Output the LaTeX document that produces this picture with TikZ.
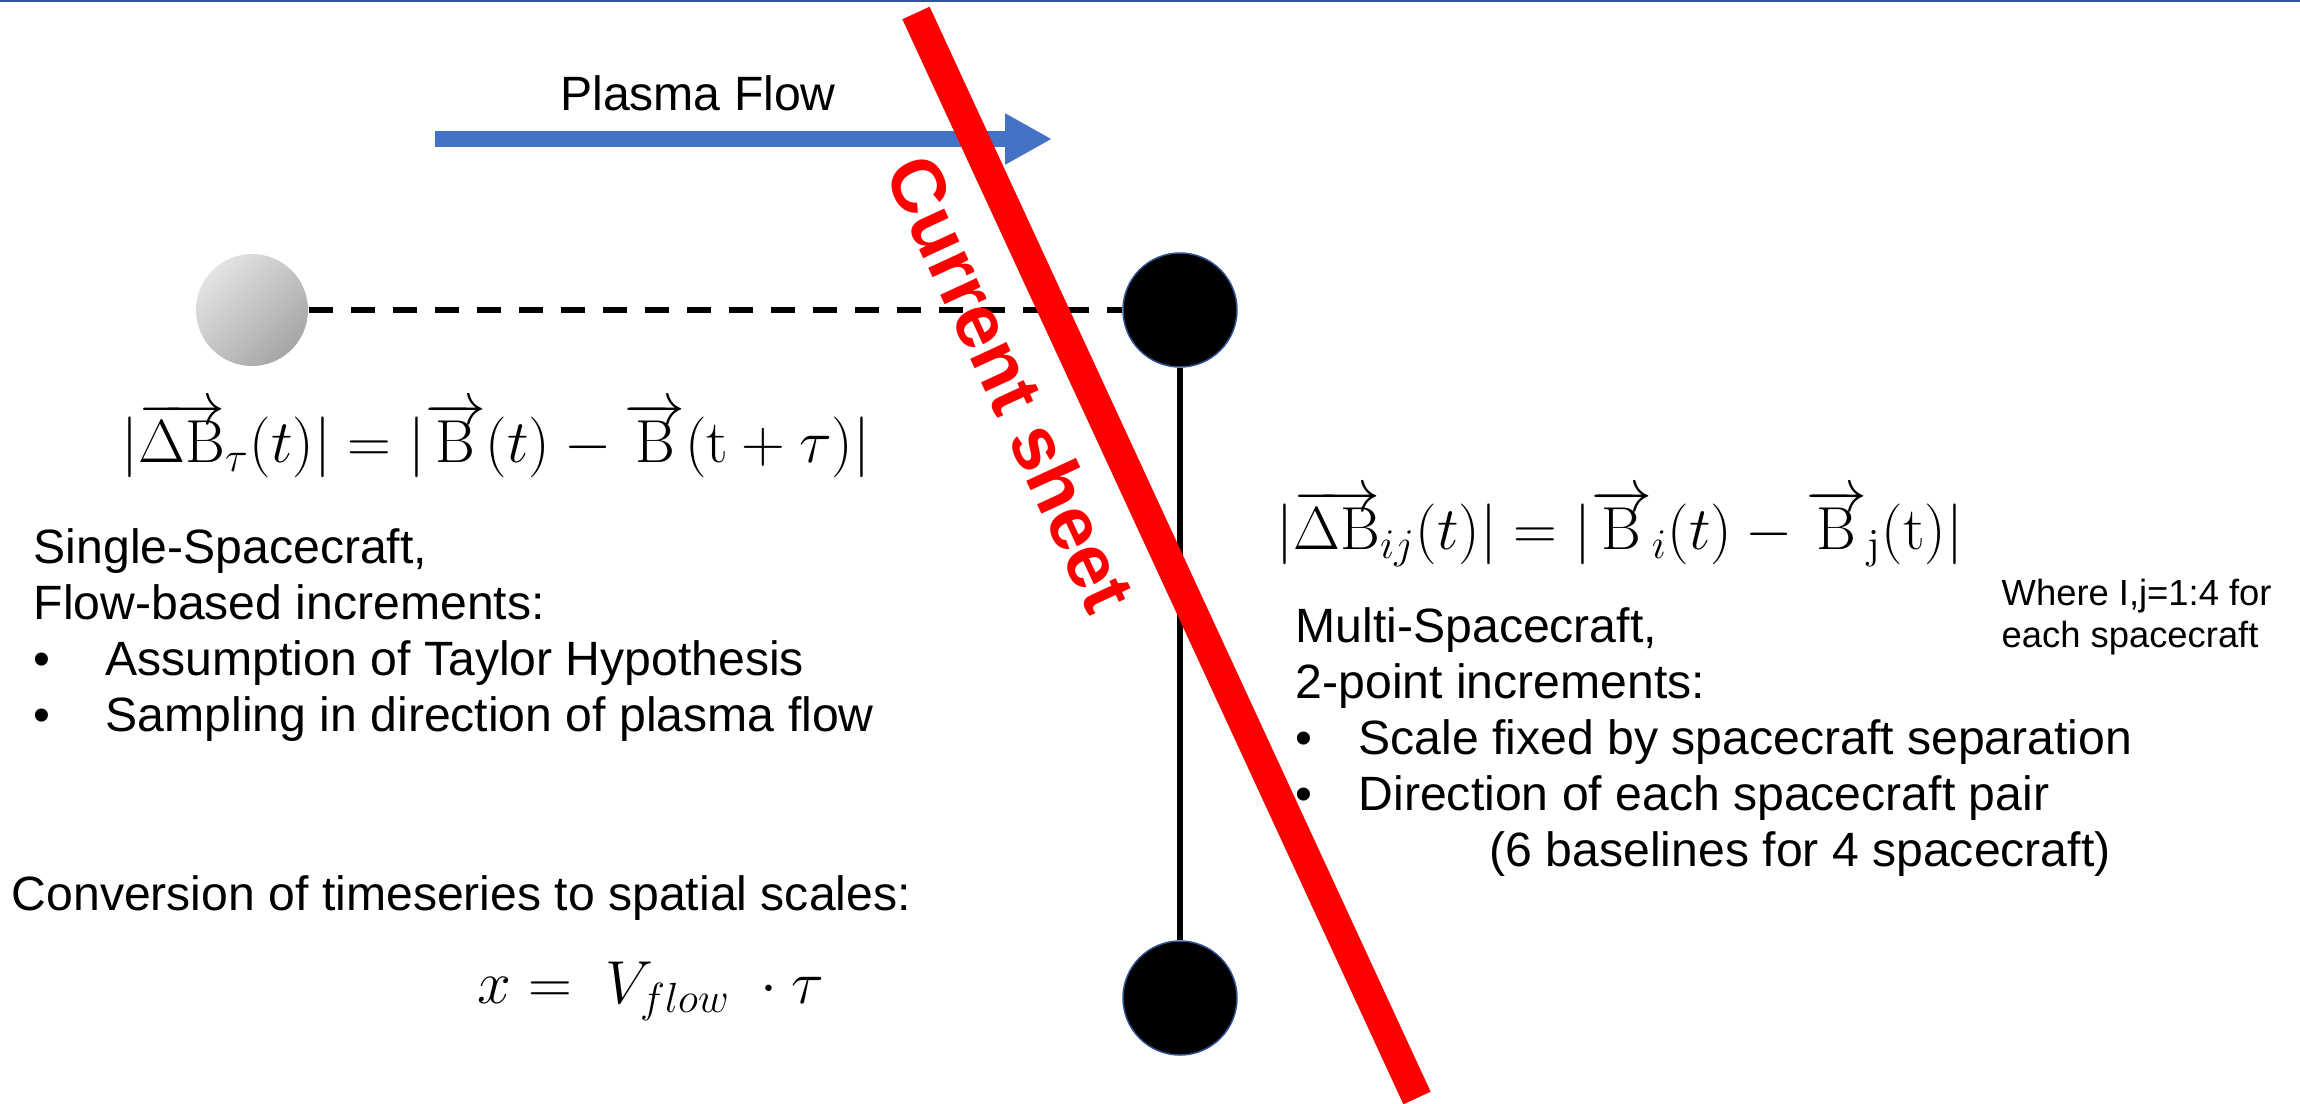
\documentclass[tikz,border=0pt]{standalone}
\usepackage[no-math]{fontspec}
\setmainfont{Liberation Sans}
\usetikzlibrary{arrows.meta,positioning}
\definecolor{flowblue}{RGB}{68,114,196}
\definecolor{rimblue}{RGB}{47,82,143}
\definecolor{barblue}{RGB}{47,85,151}
\definecolor{sheetred}{RGB}{255,0,0}
\newcommand{\vB}{\overrightarrow{\mathrm{B}}}
\newcommand{\bul}[1]{\makebox[#1][l]{\textbullet}}

\begin{document}
\begin{tikzpicture}[x=0.1mm,y=-0.1mm,
    txt/.style={inner sep=0pt,font=\fontsize{13.7pt}{15.9pt}\selectfont,align=left},
    eq/.style={inner sep=0pt,font=\fontsize{17pt}{20pt}\selectfont},
    craft/.style={circle,draw=rimblue,line width=0.15mm,fill=black,minimum size=11.4mm,inner sep=0pt}]
  \useasboundingbox (0,0) rectangle (2300,1104);
  \draw[barblue,line width=0.2mm] (0,1) -- (2300,1);
  \coordinate (flow0) at (435,139);
  \coordinate (flow1) at (1052,139);
  \draw[flowblue,line width=1.6mm,-{Triangle[length=4.7mm,width=4.8mm]}] (flow0) -- (flow1);
  \node[txt,anchor=base] (flowlab) at (698,110) {Plasma Flow};
  \node[circle,minimum size=11.2mm,inner sep=0pt,top color=gray!22,bottom color=gray!70,shading angle=45] (single) at (252,310) {};
  \foreach \n/\y in {mtop/310,mbot/998}
    \node[craft] (\n) at (1180,\y) {};
  \draw[line width=0.6mm,dash pattern=on 2.4mm off 1.8mm] (single) -- (mtop);
  \draw[line width=0.55mm] (mtop) -- (mbot);
  \coordinate (cs0) at (916,13);
  \coordinate (cs1) at (1417,1098);
  \draw[sheetred,line width=3mm] (cs0) -- node[sloped,pos=0.315,anchor=north,inner xsep=0pt,inner ysep=2.6mm,text=sheetred,font=\fontsize{21.5pt}{24pt}\selectfont\bfseries] (cslab) {Current sheet} (cs1);
  \node[eq,anchor=base west] (dtau) at (121,462) {$|\overrightarrow{\Delta\mathrm{B}}_{\tau}(t)| = |\vB(t)-\vB(\mathrm{t}+\tau)|$};
  \node[eq,anchor=base west] (dij) at (1276,549) {$|\overrightarrow{\Delta\mathrm{B}}_{ij}(t)| = |\vB_{i}(t)-\vB_{\mathrm{j}}(\mathrm{t})|$};
  \node[eq,anchor=base west] (xconv) at (477,1003) {$x =\ V_{flow}\ \cdot\tau$};
  \node[txt,anchor=north west] (singletxt) at (33,528) {Single-Spacecraft,\\Flow-based increments:\\\bul{7.2mm}Assumption of Taylor Hypothesis\\\bul{7.2mm}Sampling in direction of plasma flow};
  \node[txt,anchor=north west] (multitxt) at (1295,607) {Multi-Spacecraft,\\2-point increments:\\\bul{6.3mm}Scale fixed by spacecraft separation\\\bul{6.3mm}Direction of each spacecraft pair\\\hspace*{19.4mm}(6 baselines for 4 spacecraft)};
  \node[txt,anchor=north west,font=\fontsize{10.35pt}{12.2pt}\selectfont] (wherenote) at (2001,578) {Where I,j=1:4 for\\each spacecraft};
  \node[txt,anchor=base west] (convtxt) at (11,910) {Conversion of timeseries to spatial scales:};
\end{tikzpicture}
\end{document}
